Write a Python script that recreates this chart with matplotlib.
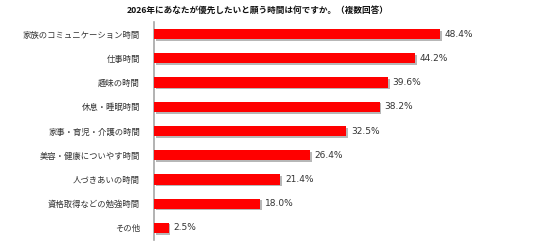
import matplotlib
matplotlib.use('Agg')
import matplotlib.pyplot as plt
import matplotlib.patheffects as pe

plt.rcParams['font.family'] = ['Noto Sans CJK JP', 'DejaVu Sans']

# データ
categories = [
    '家族のコミュニケーション時間',
    '仕事時間',
    '趣味の時間',
    '休息・睡眠時間',
    '家事・育児・介護の時間',
    '美容・健康についやす時間',
    '人づきあいの時間',
    '資格取得などの勉強時間',
    'その他',
]
values = [48.4, 44.2, 39.6, 38.2, 32.5, 26.4, 21.4, 18.0, 2.5]
title = '2026年にあなたが優先したいと願う時間は何ですか。（複数回答）'

fig = plt.figure(figsize=(5.36, 2.49), dpi=100)
ax = fig.add_axes([0.2873, 0.0361, 0.6616, 0.8755])

y = list(range(len(categories)))
bars = ax.barh(y, values, height=0.42, color='#FF0000', zorder=3)
for b in bars:
    b.set_path_effects([pe.SimplePatchShadow(offset=(1.2, -1.2), shadow_rgbFace='#888888', alpha=0.6),
                        pe.Normal()])

for yi, v in zip(y, values):
    ax.text(v + 0.8, yi, f'{v:.1f}%', va='center', ha='left',
            fontsize=6.5, color='#333333', family='DejaVu Sans')

ax.set_xlim(0, 60)
ax.set_ylim(len(categories) - 0.5, -0.5)
ax.set_yticks(y)
ax.set_yticklabels(categories, fontsize=6, color='#333333')
ax.tick_params(axis='y', length=0, pad=10)
ax.set_xticks([])

for s in ['top', 'right', 'bottom']:
    ax.spines[s].set_visible(False)
ax.spines['left'].set_color('#A6A6A6')
ax.spines['left'].set_linewidth(1.2)

fig.text(0.48, 0.958, title, ha='center', va='center', fontsize=6.2,
         fontweight='bold', color='#111111')

fig.savefig('out.png', dpi=100)
